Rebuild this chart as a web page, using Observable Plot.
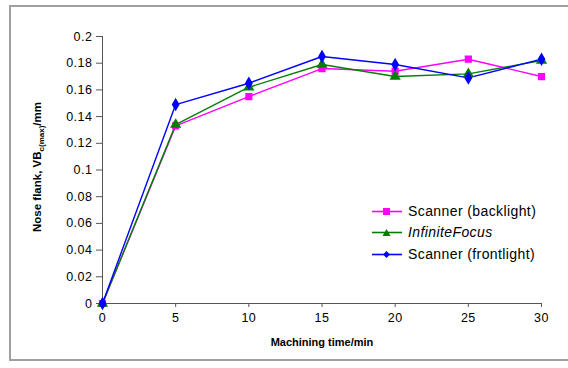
<!DOCTYPE html>
<html><head><meta charset="utf-8">
<script src="https://cdn.jsdelivr.net/npm/d3@7"></script>
<script src="https://cdn.jsdelivr.net/npm/@observablehq/plot@0.6"></script>
<style>
body{margin:0;background:#fff;font-family:"Liberation Sans",Arial,sans-serif;}
#wrap{position:relative;width:568px;height:368px;overflow:hidden;}
#frame{position:absolute;left:9px;top:5px;width:580px;height:356px;border:2px solid #a0a0a0;box-sizing:border-box;}
#chart{position:absolute;left:0;top:0;}
#legend{position:absolute;left:372px;top:201px;font-size:14px;line-height:21.3px;color:#000;letter-spacing:0.4px;}
#legend div{display:flex;align-items:center;white-space:nowrap;}
#legend svg{margin-right:4px;}
svg g[aria-label$="tick label"] text{letter-spacing:0.5px;}
</style></head>
<body><div id="wrap"><div id="frame"></div><div id="chart"></div><div id="legend"></div></div>
<script>
const times = [0, 5, 10, 15, 20, 25, 30];
const scannerBacklight = [0, 0.133, 0.155, 0.176, 0.174, 0.183, 0.170];
const infiniteFocus = [0, 0.134, 0.162, 0.179, 0.170, 0.172, 0.182];
const scannerFrontlight = [0, 0.149, 0.165, 0.185, 0.179, 0.169, 0.183];
const seriesNames = ["Scanner (backlight)", "InfiniteFocus", "Scanner (frontlight)"];
const seriesColors = ["#ff00ff", "#008000", "#0000ff"];
const seriesSymbols = ["square", "triangle", "diamond"];
const yTicks = [0, 0.02, 0.04, 0.06, 0.08, 0.1, 0.12, 0.14, 0.16, 0.18, 0.2];
const xTicks = [0, 5, 10, 15, 20, 25, 30];

const allSeries = [scannerBacklight, infiniteFocus, scannerFrontlight];
const rows = [];
allSeries.forEach((vals, i) => vals.forEach((v, j) => rows.push({series: seriesNames[i], t: times[j], v})));

const plot = Plot.plot({
  width: 568, height: 368,
  marginLeft: 102, marginRight: 27, marginTop: 36, marginBottom: 65,
  style: {fontFamily: '"Liberation Sans", Arial, sans-serif', fontSize: "12.5px", color: "#000", background: "transparent"},
  x: {domain: [0, 30], label: null},
  y: {domain: [0, 0.2], label: null},
  color: {domain: seriesNames, range: seriesColors},
  symbol: {domain: seriesNames, range: seriesSymbols},
  marks: [
    Plot.axisX({ticks: xTicks, tickSize: 4, tickPadding: 6, stroke: "#555", fill: "#000", label: null}),
    Plot.axisY({ticks: yTicks, tickSize: 6, tickPadding: 4, stroke: "#555", fill: "#000", label: null, tickFormat: d => String(+d.toFixed(2))}),
    Plot.ruleX([0], {stroke: "#555"}),
    Plot.ruleY([0], {stroke: "#555"}),
    Plot.line(rows, {x: "t", y: "v", z: "series", stroke: "series", strokeWidth: 1.4}),
    Plot.dot(rows, {x: "t", y: "v", fill: "series", stroke: "series", symbol: "series", r: 3.2}),
    Plot.text(["Machining time/min"], {frameAnchor: "bottom", dy: 42, fontWeight: "bold", fontSize: 11})
  ]
});
document.getElementById("chart").appendChild(plot);

// y-axis title with subscript
const ns = "http://www.w3.org/2000/svg";
const t = document.createElementNS(ns, "text");
t.setAttribute("transform", "translate(41,167) rotate(-90)");
t.setAttribute("text-anchor", "middle");
t.setAttribute("font-weight", "bold");
t.setAttribute("font-size", "11.5");
t.setAttribute("fill", "#000");
const p1 = document.createElementNS(ns, "tspan"); p1.textContent = "Nose flank, VB";
const p2 = document.createElementNS(ns, "tspan"); p2.textContent = "c(max)"; p2.setAttribute("font-size", "8"); p2.setAttribute("dy", "3");
const p3 = document.createElementNS(ns, "tspan"); p3.textContent = "/mm"; p3.setAttribute("dy", "-3");
t.append(p1, p2, p3);
plot.appendChild(t);

// legend
const leg = document.getElementById("legend");
const shapes = {
  square: c => `<rect x="11" y="3" width="7" height="7" fill="${c}"/>`,
  triangle: c => `<path d="M14.5,3 L18.5,10 L10.5,10 Z" fill="${c}"/>`,
  diamond: c => `<path d="M14.5,3 L18,6.5 L14.5,10 L11,6.5 Z" fill="${c}"/>`
};
seriesNames.forEach((n, i) => {
  const d = document.createElement("div");
  d.innerHTML = `<svg width="32" height="13"><line x1="0" x2="30" y1="6.5" y2="6.5" stroke="${seriesColors[i]}" stroke-width="1.6"/>${shapes[seriesSymbols[i]](seriesColors[i])}</svg><span style="${i===1?'font-style:italic':''}">${n}</span>`;
  leg.appendChild(d);
});
</script></body></html>
